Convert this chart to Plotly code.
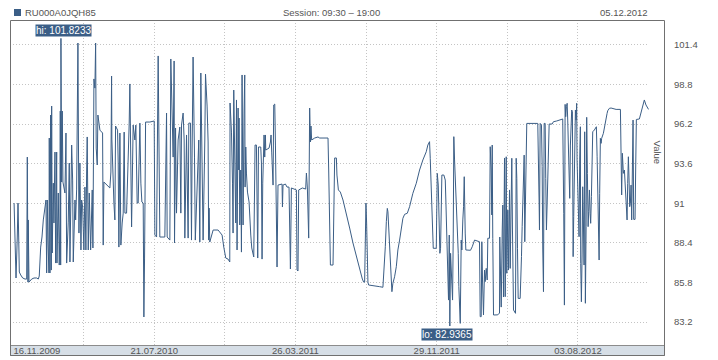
import pandas as pd
import plotly.graph_objects as go

START = "2009-11-16"
security = "RU000A0JQH85"
session = "Session: 09:30 \u2013 19:00"

# days since 16.11.2009 and prices (four stretches)
seg1_days = [1, 2.1, 3.2, 4.4, 6.6, 7.9, 9.1, 10.2, 12.6, 16.1,
             20.2, 23.1, 24.2, 25.4, 25.9, 27.2, 28.9, 31.9, 36.0, 40.7,
             43.5, 45.2, 47.7, 50.0, 52.3, 54.7, 57.0,
             58.2, 59.3, 60.5, 62.2, 62.8, 64.0, 65.2, 66.3, 67.0, 68.0,
             69.8, 71.0, 72.8, 74.0, 75.8, 76.3, 78.6, 80.3, 81.5, 82.1,
             82.8, 83.3, 84.5, 85.6, 86.8, 90.3, 92.1, 93.3, 96.1, 97.9,
             99.1, 102.1, 103.8, 104.9, 107.9, 109.1, 110.8, 111.9, 113.1, 114.9,
             116.6, 118.4, 119.6, 121.4, 122.4, 123.6, 125.4, 127.1, 128.4, 129.4,
             131.2, 133.0, 135.4, 138.2, 139.4, 141.2, 142.9, 144.2, 145.2, 147.0,
             148.2, 150.5, 151.7, 156.4, 157.5, 158.7, 169.2, 171.0, 172.2, 172.7,
             176.3, 178.0, 179.2, 182.7, 183.8, 185.0, 186.8, 188.5, 190.8, 192.6,
             194.3, 195.6, 198.5, 201.3, 203.1, 204.3, 205.5, 207.3, 210.1, 213.1,
             214.8, 216.1, 217.1, 218.9, 220.6, 221.9, 223.6, 225.4, 227.7, 228.9,
             230.1, 231.2, 231.9, 239.4, 247.0, 248.2, 251.2, 254.0, 255.7, 256.9,
             265.7, 268.7, 269.8, 274.5, 276.2, 278.5, 280.3, 282.0, 282.7, 284.5,
             286.2, 289.0, 292.0, 293.8, 295.0, 297.8, 299.6, 300.8, 303.8, 306.6,
             307.8, 310.8, 312.5, 313.6, 315.3, 317.8, 319.2, 325.3, 327.1, 328.9,
             331.1, 332.9, 335.9, 337.1, 339.9, 341.7, 342.6, 343.4, 344.6, 350.5,
             359.2, 366.2, 369.2, 372.7, 376.7, 379.7]
seg1_prices = [91.01, 88.45, 86.09, 86.09, 88.78, 91.01, 88.78, 86.48, 86.29, 86.09,
               86.02, 86.02, 94.03, 85.82, 89.90, 85.82, 85.89, 86.02, 86.09, 86.09,
               86.02, 86.22, 88.12, 88.78, 89.90, 90.75, 91.21,
               86.42, 91.21, 88.58, 86.42, 95.28, 86.42, 96.79, 86.61, 97.38, 87.73,
               92.32, 89.70, 94.36, 87.07, 94.36, 87.07, 91.67, 86.94, 89.70, 97.05,
               86.94, 101.8233, 92.39, 97.05, 92.39, 91.67, 95.61, 87.07, 89.76, 93.64,
               87.14, 94.82, 92.52, 87.14, 91.21, 89.90, 91.87, 97.91, 101.52, 89.04,
               93.64, 87.93, 91.21, 90.75, 89.90, 87.93, 92.06, 87.93, 93.05, 95.35,
               87.93, 91.67, 87.93, 91.87, 88.06, 99.16, 98.56, 101.52, 94.62, 93.51,
               96.79, 96.26, 95.80, 95.61, 88.25, 92.39, 92.00, 93.05, 99.35, 95.21,
               91.01, 89.90, 96.07, 95.80, 93.64, 88.12, 95.61, 88.25, 89.70, 90.35,
               95.67, 90.35, 90.35, 93.64, 96.26, 98.83, 92.98, 89.44, 96.13, 95.15,
               96.13, 91.87, 91.01, 91.01, 96.00, 96.26, 92.32, 91.08, 91.01, 83.53,
               87.40, 94.49, 96.33, 96.33, 96.40, 88.91, 88.78, 100.67, 94.69, 88.78,
               88.78, 96.92, 88.78, 88.58, 100.47, 97.45, 94.03, 100.34, 88.39, 95.94,
               90.35, 95.15, 96.00, 90.35, 96.13, 96.92, 95.15, 88.71, 95.48, 88.71,
               96.26, 96.26, 88.58, 94.49, 100.60, 94.03, 88.58, 95.15, 88.45, 99.55,
               94.03, 88.58, 95.15, 99.48, 97.38, 95.02, 88.58, 90.68, 88.45, 89.24,
               89.24, 88.91, 88.12, 87.40, 87.33, 87.14]

seg2_days = [380.2, 382.7, 384.5, 385.5, 386.7, 388.5, 390.2, 391.5, 392.5, 394.3,
             395.5, 396.0, 397.3, 399.0, 400.2, 401.3, 402.5, 403.1, 404.8, 406.0,
             406.6, 407.8, 409.0, 410.8, 413.6, 414.8, 416.6, 418.3, 421.8, 423.0,
             424.1, 426.5, 427.6, 428.8, 430.1, 434.1, 435.3, 436.4, 437.6, 438.8,
             439.9, 441.1, 442.3, 442.9, 448.7, 451.1, 452.2, 453.4, 454.6, 455.7,
             456.9, 458.7, 459.9, 461.6, 462.7, 464.4, 471.5, 472.2, 473.2, 477.4,
             480.2, 483.7, 485.0, 486.2, 487.9, 496.7, 497.8, 499.5, 500.7, 507.2,
             513.0, 514.3, 516.0, 517.1, 518.3, 520.0, 521.3, 522.3, 523.5, 528.8,
             534.6, 537.6, 552.2, 553.4, 554.6, 556.4, 561.0, 562.1, 563.9, 566.9,
             567.9, 570.4, 573.9, 578.5, 584.4, 590.2, 596.0, 602.0, 607.8, 612.5,
             614.8, 616.5, 617.7, 618.8, 620.0, 621.2, 622.3, 623.5]
seg2_prices = [97.58, 95.67, 92.32, 89.04, 98.43, 93.18, 89.70, 97.78, 87.93, 97.25,
               93.18, 96.59, 89.57, 93.18, 87.79, 99.42, 93.64, 89.57, 96.92, 99.42,
               92.06, 94.69, 92.98, 91.73, 91.08, 89.90, 88.91, 88.06, 87.47, 91.21,
               94.82, 94.82, 91.08, 87.40, 94.69, 94.69, 93.64, 87.33, 92.32, 94.95,
               95.48, 94.03, 95.48, 94.49, 94.62, 95.02, 95.48, 94.30, 92.98, 92.19,
               97.45, 97.51, 94.82, 89.44, 86.81, 92.19, 92.26, 90.75, 92.19, 92.26,
               92.06, 92.06, 89.37, 86.68, 92.00, 91.87, 86.61, 86.55, 91.87, 92.00,
               91.93, 92.98, 92.00, 90.03, 88.71, 97.25, 95.02, 96.07, 95.15, 95.28,
               95.35, 95.28, 95.28, 93.18, 89.11, 86.94, 86.94, 91.41, 93.97, 93.97,
               92.85, 91.87, 91.73, 91.21, 90.35, 89.37, 88.39, 87.47, 86.61, 86.02,
               85.82, 85.82, 88.45, 91.01, 89.70, 87.07, 85.82, 85.63]

seg3_days = [628.3, 642.8, 648.6, 650.4, 652.8, 654.6, 656.3, 657.4, 658.6, 660.4,
             662.1, 664.4, 666.1, 669.1, 672.1, 674.9, 677.9, 680.9, 683.7, 686.7,
             691.4, 695.4, 701.2, 707.2, 713.0, 718.8, 724.7, 727.5, 730.5, 731.7,
             733.5, 735.3, 737.0, 742.3, 744.0, 745.8, 747.5, 748.6, 749.8, 751.0,
             752.1, 755.6, 758.1, 759.1, 760.3, 761.6, 762.6, 763.8, 765.1, 766.1,
             767.4, 768.6, 769.6, 770.9, 772.1, 773.1, 774.4, 775.6, 776.7, 778.4,
             779.6, 780.9, 781.9, 783.1, 784.4, 786.1, 787.2, 788.9, 790.2, 791.4,
             791.9, 793.1, 794.2, 802.4, 805.4, 809.5, 818.2, 819.4, 821.2, 822.3,
             823.5, 825.2, 827.0, 828.2, 830.0, 831.7, 832.8, 835.8, 837.0, 838.7,
             839.8, 840.5, 841.5, 842.8, 850.3, 853.3, 853.8, 855.1, 856.3, 858.1,
             859.1, 860.3, 862.1]
seg3_prices = [85.59, 85.52, 85.48, 86.40, 88.14, 89.79, 90.66, 90.44, 89.46, 87.93,
               86.40, 85.19, 85.74, 86.17, 86.83, 87.93, 88.58, 89.46, 90.01, 90.27,
               90.34, 90.77, 91.65, 92.31, 93.18, 93.84, 94.38, 94.82, 95.04, 93.95,
               91.65, 89.24, 88.04, 88.04, 92.96, 92.19, 89.90, 87.71, 88.04, 90.44,
               92.85, 92.85, 92.52, 91.21, 89.04, 87.93, 85.52, 84.64, 88.91, 82.9365,
               87.71, 86.40, 85.52, 84.64, 89.04, 95.37, 93.84, 92.74, 91.65, 91.01,
               89.90, 87.71, 85.52, 84.21, 83.11, 88.58, 87.93, 89.90, 90.77, 92.74,
               90.77, 89.04, 87.93, 87.91, 88.14, 88.58, 88.47, 83.55, 83.55, 88.47,
               85.96, 83.66, 86.61, 85.85, 86.72, 85.96, 88.70, 88.70, 94.71, 93.18,
               90.23, 94.82, 88.70, 83.66, 83.67, 83.79, 88.78, 86.17, 84.18, 89.24,
               90.88, 84.84, 93.97]

seg4_days = [863.3, 865.1, 866.1, 867.9, 869.1, 870.9, 872.1, 873.9, 874.9, 876.1,
             877.9, 881.4, 882.6, 883.7, 884.9, 886.1, 889.6, 890.7, 891.9, 893.1,
             894.2, 895.4, 896.6, 897.7, 898.9, 900.1, 901.2, 920.5, 921.7, 922.9,
             923.5, 924.7, 927.0, 928.2, 929.3, 930.5, 931.7, 933.5, 934.5, 935.7,
             937.0, 938.0, 939.2, 940.5, 945.7, 948.0, 953.8, 958.5, 964.3, 966.1,
             967.3, 968.5, 969.6, 970.8, 972.1, 973.1, 974.3, 975.6, 976.6, 977.8,
             979.1, 980.1, 981.3, 982.6, 983.6, 984.8, 986.6, 987.8, 988.8, 989.5,
             990.6, 991.8, 993.0, 994.1, 995.3, 995.9, 997.1, 998.3, 999.4, 1000.6,
             1001.8, 1002.9, 1004.1, 1005.4, 1006.4, 1007.6, 1008.9, 1009.9, 1011.2, 1012.4,
             1013.4, 1014.7, 1015.9, 1017.0, 1019.9, 1023.4, 1024.7, 1025.7, 1027.0, 1028.2,
             1029.2, 1030.4, 1031.7, 1032.7, 1035.7, 1037.5, 1039.2, 1040.5, 1042.2, 1043.3,
             1046.2, 1049.2, 1058.0, 1065.6, 1066.8, 1067.8, 1069.0, 1070.8, 1072.6, 1073.8,
             1074.8, 1076.1, 1077.3, 1078.4, 1079.6, 1080.8, 1081.9, 1083.1, 1084.3, 1085.4,
             1086.6, 1087.8, 1088.9, 1091.3, 1092.4, 1093.6, 1098.9, 1101.8, 1104.6, 1107.6,
             1110.5, 1115.0]
seg4_prices = [84.86, 94.05, 86.40, 90.55, 86.61, 91.87, 86.72, 90.12, 93.95, 89.24,
               83.99, 83.77, 93.95, 92.63, 88.04, 84.75, 84.75, 85.74, 87.49, 89.46,
               91.32, 93.18, 94.16, 88.47, 90.66, 92.85, 96.24, 96.24, 94.49, 91.00,
               89.24, 96.24, 96.13, 93.40, 87.93, 85.19, 96.24, 96.24, 92.63, 89.24,
               91.00, 92.63, 94.49, 96.20, 96.20, 96.35, 96.40, 96.46, 96.53, 90.34,
               84.31, 97.49, 96.68, 97.34, 97.56, 96.46, 94.28, 93.07, 91.32, 94.82,
               96.68, 97.12, 97.01, 87.49, 90.12, 94.28, 97.12, 96.46, 97.56, 93.84,
               91.65, 89.46, 88.80, 93.84, 96.02, 87.05, 84.53, 87.60, 92.08, 89.90,
               86.94, 95.69, 84.43, 89.46, 96.64, 92.96, 89.46, 90.44, 91.87, 90.34,
               89.68, 91.43, 92.96, 95.69, 95.81, 96.02, 94.05, 91.32, 88.70, 87.27,
               91.65, 95.26, 94.93, 95.26, 95.59, 96.02, 96.46, 96.68, 96.90, 97.07,
               97.23, 97.25, 97.16, 97.16, 94.71, 91.54, 94.28, 92.96, 93.18, 92.30,
               91.21, 90.44, 89.90, 92.30, 94.05, 92.52, 90.77, 91.00, 92.19, 89.90,
               92.19, 96.46, 89.94, 89.94, 93.18, 96.50, 96.53, 96.90, 97.34, 97.78,
               97.45, 97.16]

tick_dates = ["2009-11-16", "2010-07-21", "2011-03-26", "2011-11-29", "2012-08-03"]
y_ticks = [83.2, 85.8, 88.4, 91.0, 93.6, 96.2, 98.8, 101.4]
y_tick_labels = ["83.2", "85.8", "88.4", "91", "93.6", "96.2", "98.8", "101.4"]

days = seg1_days + seg2_days + seg3_days + seg4_days
prices = seg1_prices + seg2_prices + seg3_prices + seg4_prices
assert len(days) == len(prices), (len(days), len(prices))

start = pd.Timestamp(START)
dates = start + pd.to_timedelta(days, unit="D")

LINE = "#3b5e86"
TEXT = "#555555"
GRID = "#c4c4c4"
DOT = "1px,2px"
FONT = "Liberation Sans, Arial, sans-serif"
FS = 9.5

# figure geometry helpers (pixel -> paper)
W, H = 718, 360
ML, MR, MT, MB = 13, 69, 20, 15
PW, PH = W - ML - MR, H - MT - MB
def px(x):
    return (x - ML) / PW
def py(y):
    return (H - MB - y) / PH

x_range = [(start - pd.Timedelta(days=0.9)).strftime("%Y-%m-%d %H:%M:%S"),
           (start + pd.Timedelta(days=1115.8)).strftime("%Y-%m-%d %H:%M:%S")]
y_range = [81.69, 103.03]

ticks = pd.to_datetime(tick_dates)
grid_vals, grid_text = [], []
for i, t in enumerate(ticks):
    grid_vals.append(t.strftime("%Y-%m-%d %H:%M:%S"))
    grid_text.append("" if i == 0 else t.strftime("%d.%m.%Y"))
    if i < len(ticks) - 1:
        m = t + (ticks[i + 1] - t) / 2
        grid_vals.append(m.strftime("%Y-%m-%d %H:%M:%S"))
        grid_text.append("")

fig = go.Figure()
fig.add_trace(go.Scatter(x=dates, y=prices, mode="lines",
                         line=dict(color=LINE, width=1), name=security,
                         showlegend=False))
fig.add_trace(go.Scatter(x=[grid_vals[0]], y=[None], xaxis="x2", mode="lines",
                         showlegend=False, hoverinfo="skip"))

i_hi = max(range(len(prices)), key=lambda i: prices[i])
i_lo = min(range(len(prices)), key=lambda i: prices[i])

fig.update_layout(
    template="none",
    width=W, height=H, autosize=False,
    margin=dict(l=ML, r=MR, t=MT, b=MB, pad=0, autoexpand=False),
    paper_bgcolor="white", plot_bgcolor="white",
    font=dict(family=FONT, size=FS, color=TEXT),
    showlegend=False,
    xaxis=dict(type="date", range=x_range, tickmode="array", automargin=False,
               tickvals=grid_vals, ticktext=grid_text,
               showgrid=True, gridcolor=GRID, griddash=DOT, gridwidth=1,
               ticks="", showline=False, zeroline=False,
               tickfont=dict(size=FS, color=TEXT), ticklabelstandoff=-2),
    xaxis2=dict(type="date", range=x_range, overlaying="x", anchor="y", side="bottom",
                tickmode="array", tickvals=[grid_vals[0]], automargin=False,
                ticktext=[ticks[0].strftime("%d.%m.%Y")],
                ticklabelposition="outside right", showgrid=False, ticks="",
                showline=False, zeroline=False,
                tickfont=dict(size=FS, color=TEXT), ticklabelstandoff=-2),
    yaxis=dict(side="right", range=y_range, tickmode="array", automargin=False,
               tickvals=y_ticks, ticktext=y_tick_labels,
               showgrid=True, gridcolor=GRID, griddash=DOT, gridwidth=1,
               ticks="", showline=False, zeroline=False,
               tickfont=dict(size=FS, color=TEXT), ticklabelstandoff=24),
)

shapes = [
    dict(type="rect", xref="paper", yref="paper", layer="below",
         x0=px(10.5), x1=px(664.5), y0=py(355.5), y1=py(345.5),
         fillcolor="#d6dee6", line=dict(color="#8c8c8c", width=1)),
    dict(type="rect", xref="paper", yref="paper", layer="above",
         x0=px(10.5), x1=px(664.5), y0=py(355.5), y1=py(20.5),
         fillcolor="rgba(0,0,0,0)", line=dict(color="#707070", width=1)),
    dict(type="rect", xref="paper", yref="paper", layer="above",
         x0=px(14), x1=px(21), y0=py(16), y1=py(9),
         fillcolor=LINE, line=dict(width=0)),
]
fig.update_layout(shapes=shapes)

ann = [
    dict(xref="paper", yref="paper", x=px(23), y=py(12.3), xanchor="left", yanchor="middle",
         text=security, showarrow=False, font=dict(size=FS, color=TEXT)),
    dict(xref="paper", yref="paper", x=px(331.5), y=py(12.3), xanchor="center", yanchor="middle",
         text=session, showarrow=False, font=dict(size=FS, color=TEXT)),
    dict(xref="paper", yref="paper", x=px(650), y=py(12.3), xanchor="right", yanchor="middle",
         text=dates[-1].strftime("%d.%m.%Y"), showarrow=False, font=dict(size=FS, color=TEXT)),
    dict(xref="paper", yref="paper", x=px(657), y=py(152.5), xanchor="center", yanchor="middle",
         text="Value", textangle=90, showarrow=False, font=dict(size=FS, color=TEXT)),
    dict(xref="x", yref="y", x=dates[i_hi], y=prices[i_hi], xanchor="center", yanchor="bottom",
         yshift=1, xshift=3, text=f"hi: {prices[i_hi]:.4f}", showarrow=False,
         bgcolor=LINE, borderpad=0, font=dict(size=10, color="white")),
    dict(xref="x", yref="y", x=dates[i_lo], y=prices[i_lo], xanchor="center", yanchor="top",
         yshift=-2, xshift=-3, text=f"lo: {prices[i_lo]:.4f}", showarrow=False,
         bgcolor=LINE, borderpad=0, font=dict(size=10, color="white")),
]
fig.update_layout(annotations=ann)

fig.write_html("out.html", config={"displayModeBar": False},
               post_script="document.body.style.margin='0px';document.body.style.padding='0px';")
